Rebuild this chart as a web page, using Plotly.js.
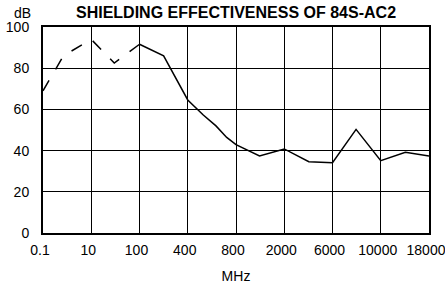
<!DOCTYPE html>
<html>
<head>
<meta charset="utf-8">
<script src="https://cdn.plot.ly/plotly-3.0.1.min.js"></script>
<style>html,body{margin:0;padding:0;background:#fff;}#chart{width:445px;height:288px;}</style>
</head>
<body>
<div id="chart"></div>
<script>
// Tick frequencies (MHz) shown at equal spacing along the x axis
const tickFreqs = [0.1, 10, 100, 400, 800, 2000, 6000, 10000, 18000];
const tickLabels = ["0.1", "10", "100", "400", "800", "2000", "6000", "10000", "18000"];
const yTicks = [0, 20, 40, 60, 80, 100];

// Dashed (low-frequency) portion
const dashFreq = [0.1, 0.7, 10, 30, 100];
const dashDb = [69, 86, 94, 82.5, 91.6];

// Solid portion
const solidFreq = [100, 200, 400, 500, 600, 700, 800, 1250, 2000, 3500, 6000, 7700, 10000, 13500, 18000];
const solidDb = [91.6, 86, 64.6, 57.3, 52, 46.4, 42.9, 37.4, 40.8, 34.6, 34.1, 50.3, 35.1, 39.2, 37.4];

// Axis scale: piecewise-logarithmic between equally spaced tick frequencies
function axisPos(f) {
  for (let i = 0; i < tickFreqs.length - 1; i++) {
    const a = tickFreqs[i], b = tickFreqs[i + 1];
    if (f <= b || i === tickFreqs.length - 2) {
      return i + Math.log(f / a) / Math.log(b / a);
    }
  }
}

const lineStyle = {color: '#000', width: 1.5};
const traces = [
  {x: dashFreq.map(axisPos), y: dashDb, mode: 'lines', type: 'scatter',
   line: Object.assign({dash: '12px,13px'}, lineStyle), hoverinfo: 'skip', showlegend: false},
  {x: solidFreq.map(axisPos), y: solidDb, mode: 'lines', type: 'scatter',
   line: lineStyle, hoverinfo: 'skip', showlegend: false}
];

const font = {family: '"Liberation Sans", Arial, Helvetica, sans-serif', color: '#000', size: 14};

const layout = {
  width: 445, height: 288,
  margin: {l: 43, r: 16, t: 27, b: 55, pad: 0},
  paper_bgcolor: '#fff', plot_bgcolor: '#fff',
  font: font,
  title: {text: '<b>SHIELDING EFFECTIVENESS OF 84S-AC2</b>', font: {family: font.family, size: 16, color: '#000'},
          x: 0.5, xref: 'paper', xanchor: 'center', y: 0.958, yref: 'container', yanchor: 'middle'},
  xaxis: {
    range: [0, 8], tickmode: 'array', tickvals: tickLabels.map((_, i) => i), ticktext: tickLabels,
    showgrid: true, gridcolor: '#000', gridwidth: 1,
    showline: true, linecolor: '#000', linewidth: 2, mirror: true,
    ticks: '', ticklabelstandoff: 3, ticklabelshift: -3, ticklabeloverflow: 'allow',
    zeroline: false, fixedrange: true,
    title: {text: 'MHz', font: {family: font.family, size: 14, color: '#000'}, standoff: 14}
  },
  yaxis: {
    range: [0, 100], tickmode: 'array', tickvals: yTicks,
    showgrid: true, gridcolor: '#000', gridwidth: 1,
    showline: true, linecolor: '#000', linewidth: 2, mirror: true,
    ticks: '', ticklabelstandoff: 9, zeroline: false, fixedrange: true
  },
  annotations: [
    {text: 'dB', xref: 'paper', yref: 'paper', x: -0.026, y: 1.068, xanchor: 'right', yanchor: 'middle',
     showarrow: false, font: {family: font.family, size: 14, color: '#000'}}
  ]
};

Plotly.newPlot('chart', traces, layout, {staticPlot: true, displayModeBar: false});
</script>
</body>
</html>
